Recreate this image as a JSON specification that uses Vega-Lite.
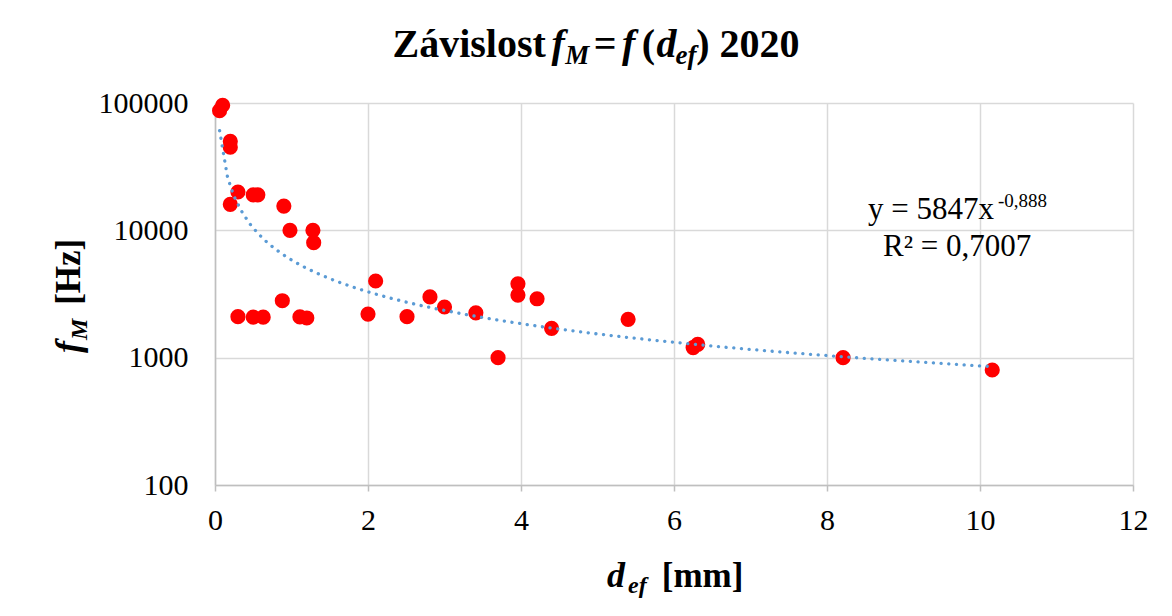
{
  "$schema": "https://vega.github.io/schema/vega-lite/v6.json",
  "autosize": {"type": "none"},
  "padding": {"left": 215, "top": 103, "right": 39, "bottom": 131},
  "width": 918,
  "height": 382,
  "background": "white",
  "config": {
    "view": {"stroke": null},
    "font": "Liberation Serif",
    "text": {"font": "Liberation Serif", "color": "black", "baseline": "alphabetic", "align": "left"}
  },
  "datasets": {
    "pts": [
      {"d": 0.10, "f": 96000}, {"d": 0.06, "f": 87000},
      {"d": 0.20, "f": 50000}, {"d": 0.20, "f": 45000},
      {"d": 0.30, "f": 20000}, {"d": 0.50, "f": 19000}, {"d": 0.56, "f": 19000},
      {"d": 0.20, "f": 16000}, {"d": 0.90, "f": 15500},
      {"d": 0.98, "f": 10000}, {"d": 1.28, "f": 10000}, {"d": 1.29, "f": 8000},
      {"d": 2.10, "f": 4000},
      {"d": 0.30, "f": 2100}, {"d": 0.50, "f": 2080}, {"d": 0.63, "f": 2080},
      {"d": 0.88, "f": 2800}, {"d": 1.11, "f": 2090}, {"d": 1.20, "f": 2050},
      {"d": 2.00, "f": 2200}, {"d": 2.51, "f": 2100}, {"d": 2.81, "f": 3000},
      {"d": 3.00, "f": 2500}, {"d": 3.41, "f": 2250}, {"d": 3.70, "f": 1000},
      {"d": 3.96, "f": 3800}, {"d": 3.96, "f": 3100}, {"d": 4.21, "f": 2900},
      {"d": 4.40, "f": 1700}, {"d": 5.40, "f": 2000}, {"d": 6.25, "f": 1200},
      {"d": 6.31, "f": 1270}, {"d": 8.21, "f": 1000}, {"d": 10.16, "f": 800}
    ],
    "one": [{"k": 1}]
  },
  "data": {"name": "one"},
  "layer": [
    {
      "data": {"name": "pts"},
      "mark": {"type": "circle", "color": "#FF0000", "opacity": 1, "size": 230},
      "encoding": {
        "x": {"field": "d", "type": "quantitative",
          "scale": {"domain": [0, 12], "nice": false, "zero": false},
          "axis": {"values": [0, 2, 4, 6, 8, 10, 12], "format": "d", "title": null, "grid": true,
            "gridColor": "#d9d9d9", "gridWidth": 1.5, "domainColor": "#bfbfbf", "domainWidth": 1.5,
            "tickColor": "#bfbfbf", "tickSize": 6, "tickWidth": 1.5,
            "labelFont": "Liberation Serif", "labelFontSize": 30, "labelColor": "black", "labelPadding": 14,
            "labelFlush": false}},
        "y": {"field": "f", "type": "quantitative",
          "scale": {"type": "log", "domain": [100, 100000], "nice": false},
          "axis": {"values": [100, 1000, 10000, 100000], "format": "d", "title": null, "grid": true,
            "gridColor": "#d9d9d9", "gridWidth": 1.5, "domainColor": "#bfbfbf", "domainWidth": 1.5,
            "ticks": false, "labelFont": "Liberation Serif", "labelFontSize": 30, "labelColor": "black",
            "labelPadding": 27}}
      }
    },
    {
      "data": {"name": "pts"},
      "transform": [{"regression": "f", "on": "d", "method": "pow"}],
      "mark": {"type": "line", "color": "#5B9BD5", "strokeWidth": 3.3, "strokeDash": [0.1, 7.6], "strokeCap": "round", "clip": true},
      "encoding": {
        "x": {"field": "d", "type": "quantitative", "scale": {"domain": [0, 12], "nice": false, "zero": false}},
        "y": {"field": "f", "type": "quantitative", "scale": {"type": "log", "domain": [100, 100000], "nice": false}}
      }
    },
    {"mark": {"type": "text", "fontSize": 40, "fontWeight": "bold"},
     "encoding": {"x": {"datum": 2.320, "type": "quantitative"}, "y": {"datum": 229600, "type": "quantitative"}, "text": {"value": "Závislost"}}},
    {"mark": {"type": "text", "fontSize": 40, "fontWeight": "bold", "fontStyle": "italic"},
     "encoding": {"x": {"datum": 4.400, "type": "quantitative"}, "y": {"datum": 229600, "type": "quantitative"}, "text": {"value": "f"}}},
    {"mark": {"type": "text", "fontSize": 27, "fontWeight": "bold", "fontStyle": "italic"},
     "encoding": {"x": {"datum": 4.580, "type": "quantitative"}, "y": {"datum": 202400, "type": "quantitative"}, "text": {"value": "M"}}},
    {"mark": {"type": "text", "fontSize": 40, "fontWeight": "bold"},
     "encoding": {"x": {"datum": 4.950, "type": "quantitative"}, "y": {"datum": 229600, "type": "quantitative"}, "text": {"value": "="}}},
    {"mark": {"type": "text", "fontSize": 40, "fontWeight": "bold", "fontStyle": "italic"},
     "encoding": {"x": {"datum": 5.320, "type": "quantitative"}, "y": {"datum": 229600, "type": "quantitative"}, "text": {"value": "f"}}},
    {"mark": {"type": "text", "fontSize": 40, "fontWeight": "bold"},
     "encoding": {"x": {"datum": 5.580, "type": "quantitative"}, "y": {"datum": 229600, "type": "quantitative"}, "text": {"value": "("}}},
    {"mark": {"type": "text", "fontSize": 40, "fontWeight": "bold", "fontStyle": "italic"},
     "encoding": {"x": {"datum": 5.770, "type": "quantitative"}, "y": {"datum": 229600, "type": "quantitative"}, "text": {"value": "d"}}},
    {"mark": {"type": "text", "fontSize": 27, "fontWeight": "bold", "fontStyle": "italic"},
     "encoding": {"x": {"datum": 6.020, "type": "quantitative"}, "y": {"datum": 202400, "type": "quantitative"}, "text": {"value": "ef"}}},
    {"mark": {"type": "text", "fontSize": 40, "fontWeight": "bold"},
     "encoding": {"x": {"datum": 6.290, "type": "quantitative"}, "y": {"datum": 229600, "type": "quantitative"}, "text": {"value": ") 2020"}}},
    {"mark": {"type": "text", "fontSize": 36, "fontWeight": "bold", "fontStyle": "italic", "angle": 270},
     "encoding": {"x": {"datum": -1.765, "type": "quantitative"}, "y": {"datum": 1088, "type": "quantitative"}, "text": {"value": "f"}}},
    {"mark": {"type": "text", "fontSize": 24, "fontWeight": "bold", "fontStyle": "italic", "angle": 270},
     "encoding": {"x": {"datum": -1.673, "type": "quantitative"}, "y": {"datum": 1377, "type": "quantitative"}, "text": {"value": "M"}}},
    {"mark": {"type": "text", "fontSize": 35, "fontWeight": "bold", "angle": 270},
     "encoding": {"x": {"datum": -1.765, "type": "quantitative"}, "y": {"datum": 2600, "type": "quantitative"}, "text": {"value": "[Hz]"}}},
    {"mark": {"type": "text", "fontSize": 36, "fontWeight": "bold", "fontStyle": "italic"},
     "encoding": {"x": {"datum": 5.124, "type": "quantitative"}, "y": {"datum": 15.8, "type": "quantitative"}, "text": {"value": "d"}}},
    {"mark": {"type": "text", "fontSize": 24, "fontWeight": "bold", "fontStyle": "italic"},
     "encoding": {"x": {"datum": 5.399, "type": "quantitative"}, "y": {"datum": 14.2, "type": "quantitative"}, "text": {"value": "ef"}}},
    {"mark": {"type": "text", "fontSize": 35, "fontWeight": "bold"},
     "encoding": {"x": {"datum": 5.840, "type": "quantitative"}, "y": {"datum": 15.8, "type": "quantitative"}, "text": {"value": "[mm]"}}},
    {"mark": {"type": "text", "fontSize": 31},
     "encoding": {"x": {"datum": 8.536, "type": "quantitative"}, "y": {"datum": 12270, "type": "quantitative"}, "text": {"value": "y = 5847x"}}},
    {"mark": {"type": "text", "fontSize": 19},
     "encoding": {"x": {"datum": 10.235, "type": "quantitative"}, "y": {"datum": 15240, "type": "quantitative"}, "text": {"value": "-0,888"}}},
    {"mark": {"type": "text", "fontSize": 31},
     "encoding": {"x": {"datum": 8.732, "type": "quantitative"}, "y": {"datum": 6287, "type": "quantitative"}, "text": {"value": "R² = 0,7007"}}}
  ]
}
